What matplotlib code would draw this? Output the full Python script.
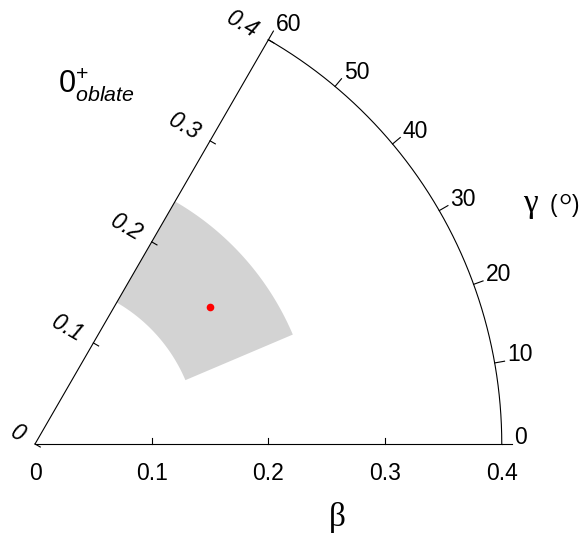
import numpy as np
import matplotlib.pyplot as plt

# axis ticks
beta_ticks = [0, 0.1, 0.2, 0.3, 0.4]
beta_labels = ['0', '0.1', '0.2', '0.3', '0.4']
gamma_ticks = [0, 10, 20, 30, 40, 50, 60]
gamma_labels = ['0', '10', '20', '30', '40', '50', '60']

# shaded region and the point (beta, gamma in degrees)
band_beta = [0.14, 0.24]
band_gamma = [23, 60]
point_beta = [0.19]
point_gamma = [38]

plt.rcParams['font.family'] = ['Liberation Sans', 'DejaVu Sans']
plt.rcParams['mathtext.fontset'] = 'custom'
plt.rcParams['mathtext.rm'] = 'Liberation Sans'
plt.rcParams['mathtext.it'] = 'Liberation Sans:italic'
serif = ['Liberation Serif', 'DejaVu Serif']


def to_xy(b, g):
    g = np.radians(g)
    return b * np.cos(g), b * np.sin(g)


fig = plt.figure(figsize=(5.83, 5.35), dpi=100)
ax = fig.add_axes([0, 0, 1, 1])
ax.set_xlim(-0.0300, 0.4696)
ax.set_ylim(-0.0780, 0.3805)
ax.set_aspect('equal')
ax.axis('off')

lw = 0.8
fs = 16.5
bmax = beta_ticks[-1]
gmax = gamma_ticks[-1]

# 1. shaded band
g = np.linspace(band_gamma[0], band_gamma[1], 120)
ox, oy = to_xy(band_beta[1], g)
ix, iy = to_xy(band_beta[0], g[::-1])
ax.fill(np.r_[ox, ix], np.r_[oy, iy], color='#d3d3d3', lw=0, zorder=1)

# 2. point
px, py = to_xy(np.array(point_beta), np.array(point_gamma))
ax.plot(px, py, 'o', color='red', ms=5.5, mec='none', zorder=3)

# 3. frame: beta axis, gamma=60 line and outer arc
ax.plot([0, bmax], [0, 0], 'k', lw=lw)
lx, ly = to_xy(np.array([0, bmax]), gmax)
ax.plot(lx, ly, 'k', lw=lw)
ax_, ay_ = to_xy(bmax, np.linspace(0, gmax, 300))
ax.plot(ax_, ay_, 'k', lw=lw)

tick = 0.0052
gtick = 0.0086

# beta ticks on the horizontal axis
for b, lab in zip(beta_ticks, beta_labels):
    if 0 < b < bmax:
        ax.plot([b, b], [0, tick], 'k', lw=lw)
    ax.text(b, -0.0308, lab, ha='center', va='baseline', fontsize=fs)

# beta ticks along the gamma=60 line
t = np.radians(gmax)
n_in = np.array([np.sin(t), -np.cos(t)])
n_out = -n_in
for b, lab in zip(beta_ticks, beta_labels):
    x0, y0 = to_xy(b, gmax)
    ax.plot([x0, x0 + tick * n_in[0]], [y0, y0 + tick * n_in[1]], 'k', lw=lw)
    d = 0.012
    ax.text(x0 + d * n_out[0], y0 + d * n_out[1], lab, ha='right', va='center',
            rotation=gmax - 90, rotation_mode='anchor', fontsize=fs, style='italic')

# gamma ticks on the arc
for gv, lab in zip(gamma_ticks, gamma_labels):
    x0, y0 = to_xy(bmax, gv)
    x1, y1 = to_xy(bmax + gtick, gv)
    ax.plot([x0, x1], [y0, y1], 'k', lw=lw)
    ax.text(x1 + 0.0022, y1, lab, ha='left', va='baseline', fontsize=fs)

# 4. axis titles
ax.text(0.2588, -0.0626, 'β', ha='center', va='center', fontsize=24, family=serif)
ax.text(0.4182, 0.1988, 'γ', ha='left', va='baseline', fontsize=24, family=serif)
ax.text(0.4413, 0.1988, '(', ha='left', va='baseline', fontsize=fs)
ax.text(0.4485, 0.1945, '°', ha='left', va='baseline', fontsize=24, family=serif)
ax.text(0.4605, 0.1988, ')', ha='left', va='baseline', fontsize=fs)

ax.text(0.0197, 0.3008, r'$\mathrm{0}^{+}_{oblate}$', ha='left', va='baseline',
        fontsize=22)

fig.savefig('out.png', dpi=100)
